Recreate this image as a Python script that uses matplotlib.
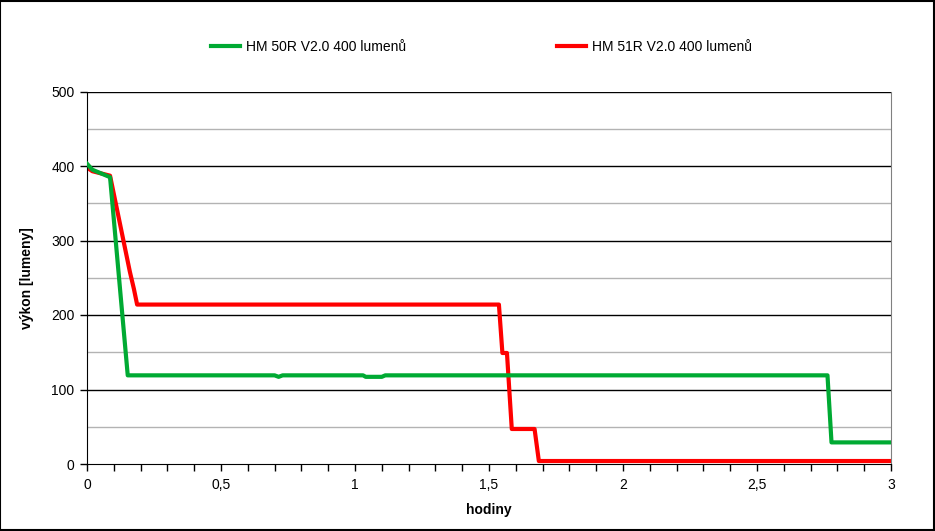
import matplotlib
matplotlib.use("Agg")
import matplotlib.pyplot as plt
from matplotlib.ticker import MultipleLocator, FuncFormatter
from matplotlib.patches import Rectangle

plt.rcParams['font.family'] = ['Liberation Sans', 'DejaVu Sans']

# HM50R V2.0 (green)
hm50_t = [0, 0.02, 0.086, 0.152, 0.70, 0.715, 0.73, 1.03, 1.04, 1.10, 1.113,
          2.763, 2.778, 3.0]
hm50_v = [403, 395, 385, 119, 119, 117, 119, 119, 117, 117, 119,
          119, 29, 29]

# HM51R V2.0 (red)
hm51_t = [0, 0.02, 0.086, 0.16, 0.175, 0.187, 1.537, 1.55, 1.567, 1.585, 1.67, 1.686, 3.0]
hm51_v = [398, 393, 387, 258, 235, 214, 214, 149, 149, 47, 47, 4, 4]

label50 = "HM 50R V2.0 400 lumenů"
label51 = "HM 51R V2.0 400 lumenů"

fig = plt.figure(figsize=(9.35, 5.31), dpi=100)
ax = fig.add_axes([87 / 935, 67 / 531, 804 / 935, 372.5 / 531])

# grid: black major, gray minor
for v in [50, 150, 250, 350, 450]:
    ax.axhline(v, color='#b3b3b3', lw=1, zorder=0)
for v in [100, 200, 300, 400, 500]:
    ax.axhline(v, color='black', lw=1, zorder=0)

ax.plot(hm50_t, hm50_v, color='#00aa33', lw=3, label=label50, zorder=3)
ax.plot(hm51_t, hm51_v, color='#ff0000', lw=3, label=label51, zorder=2)

ax.set_xlim(0, 3)
ax.set_ylim(0, 500)
ax.xaxis.set_major_locator(MultipleLocator(0.5))
ax.xaxis.set_minor_locator(MultipleLocator(0.1))
ax.yaxis.set_major_locator(MultipleLocator(100))
ax.xaxis.set_major_formatter(FuncFormatter(lambda x, p: f"{x:g}".replace('.', ',')))
ax.tick_params(axis='both', which='both', direction='out', length=5, width=1,
               labelsize=10, color='black')
ax.tick_params(axis='x', pad=5)
ax.tick_params(axis='y', pad=4)

for side in ['left', 'bottom']:
    ax.spines[side].set_color('black')
ax.spines['top'].set_visible(False)
ax.spines['right'].set_color('#808080')

ax.set_xlabel("hodiny", fontsize=10, fontweight='bold', labelpad=8)
ax.set_ylabel("výkon [lumeny]", fontsize=10, fontweight='bold', labelpad=12)

fig.legend(loc='center', bbox_to_anchor=(0.515, 0.912), ncol=2, frameon=False,
           fontsize=10, handlelength=2.1, handletextpad=0.4, columnspacing=10.9)

fig.patches.append(Rectangle((0.0005, 0.001), 0.998, 0.997, transform=fig.transFigure,
                             fill=False, edgecolor='black', lw=1.5))

fig.savefig("out.png", dpi=100)
